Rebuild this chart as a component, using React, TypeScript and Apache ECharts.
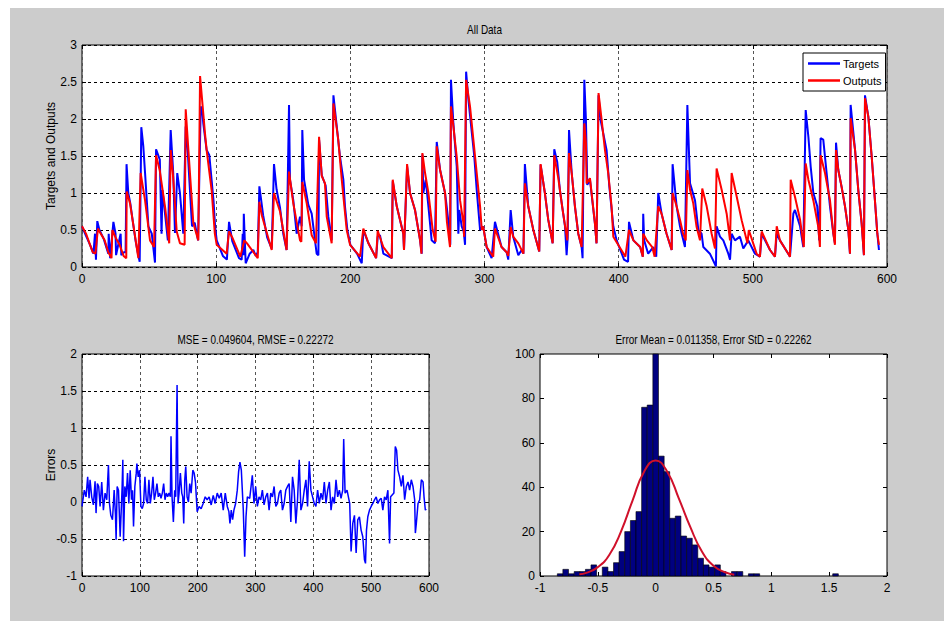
import React, { useEffect, useRef } from "react";
import * as echarts from "echarts";

// ---------- data ----------
const targetPoints: [number, number][] = [
  [0, 0.55], [3, 0.42], [6, 0.3], [8.5, 0.18], [9.7, 0.45], [10.4, 0.1], [11.4, 0.62], [13, 0.5], [16.2, 0.38],
  [19.6, 0.18], [19.9, 0.45], [21, 0.12], [23.4, 0.61], [25, 0.45], [25.4, 0.16], [27, 0.3], [28.8, 0.45], [29.3, 0.16],
  [31.3, 0.2], [32.5, 0.2], [33.2, 1.39], [34.5, 1.0], [36, 0.86], [38, 0.6], [40, 0.35], [41.5, 0.2], [43, 0.07],
  [44.2, 1.89], [45.7, 1.63], [47, 1.27], [49.5, 0.55], [52, 0.45], [54.4, 0.06],
  [55.2, 1.59], [58, 1.45], [59.3, 0.45], [60, 1.04], [62, 0.7], [64, 0.36],
  [66.1, 1.85], [68, 1.27], [69.3, 0.46], [71, 1.27], [73, 1.0], [75.5, 0.45],
  [77.3, 1.9], [79, 1.5], [82, 0.55], [84, 0.6], [86.5, 0.36],
  [88.5, 2.17], [89.7, 2.1], [90.4, 1.94], [92.9, 1.58], [94.9, 1.51], [98, 0.9], [99.2, 0.55], [100.4, 0.36],
  [105, 0.15], [108, 0.1], [109.6, 0.61], [112, 0.35], [117, 0.12], [119, 0.1], [119.8, 0.45], [120.3, 0.16], [120.6, 0.72],
  [122, 0.05], [125, 0.18], [127.7, 0.23], [129.5, 0.15], [131, 0.2],
  [132.2, 1.09], [135, 0.7], [138, 0.4], [141.4, 0.25],
  [143.1, 1.39], [145, 1.05], [147.6, 0.8], [150, 0.45], [152.5, 0.23],
  [154.3, 2.19], [155, 1.18], [157.5, 0.9], [160, 0.45], [162.5, 0.68], [163.7, 0.55],
  [164.2, 1.85], [165.5, 1.18], [168.7, 0.84], [171.2, 0.72], [174.9, 0.18], [176.2, 0.16],
  [176.7, 1.72], [178.7, 1.24], [181.6, 1.1], [183.6, 0.68], [186.1, 0.36],
  [187.4, 2.32], [192.3, 1.49], [194.8, 1.18], [196, 0.82], [197.8, 0.5], [200, 0.3], [205, 0.18], [208.5, 0.05],
  [209.7, 0.5], [213.5, 0.32], [217, 0.2], [219.2, 0.12],
  [220.4, 0.41], [222.1, 0.43], [224.6, 0.18], [230.9, 0.12],
  [231.6, 1.16], [234.6, 0.82], [239.5, 0.45], [240, 0.23],
  [242.3, 1.36], [244.5, 1.0], [248.2, 0.77], [252, 0.36], [253.2, 0.18],
  [253.7, 1.52], [254.4, 1.0], [256.2, 1.18], [258.2, 0.82], [260.6, 0.36], [263.1, 0.32],
  [264.4, 1.69], [266.9, 1.31], [270.6, 1.0], [271.8, 0.82], [273.1, 0.61], [274.5, 0.3],
  [275, 2.53], [276.8, 1.94], [279.3, 1.36], [280.5, 0.45], [281.2, 0.77], [283, 0.55], [284.5, 0.48], [285.5, 0.3],
  [286.3, 2.64], [288, 2.26], [292.4, 1.49], [294.2, 1.04], [296.7, 0.5], [299, 0.55], [301.6, 0.27], [305.3, 0.12],
  [307.8, 0.61], [312.7, 0.27], [316.5, 0.2], [317.7, 0.1],
  [319.5, 0.77], [321.4, 0.41], [325.2, 0.16], [327.7, 0.23], [329, 0.18],
  [330.1, 1.39], [332.6, 0.82], [336.4, 0.5], [340.8, 0.21],
  [341.8, 1.38], [345, 1.0], [347.5, 0.64], [350.8, 0.32],
  [352, 1.59], [354.2, 1.42], [356.2, 1.04], [360, 0.55], [361.2, 0.16], [362, 0.4],
  [363, 1.85], [365, 1.27], [367.4, 0.82], [369.9, 0.45], [372.4, 0.27], [373.1, 0.12],
  [374.4, 2.53], [375.6, 1.99], [376.6, 1.11], [378.6, 1.18], [382.3, 0.59], [383.5, 0.32],
  [385, 2.32], [386.5, 1.99], [391, 1.58], [393, 1.1], [396, 0.55], [398.5, 0.36], [404, 0.1], [407, 0.07],
  [407.7, 0.61], [411, 0.36], [416, 0.27], [418, 0.14],
  [418.3, 0.72], [419, 0.36], [422, 0.18], [425.8, 0.27], [428, 0.14],
  [429.5, 1.0], [432, 0.72], [435.7, 0.45], [439.5, 0.23],
  [440.2, 1.39], [443.2, 0.82], [445.7, 0.55], [447, 0.45], [449.4, 0.27],
  [451.2, 2.19], [453.2, 1.13], [456.9, 0.9], [459.4, 0.5], [461.8, 0.45], [463.1, 0.27], [468, 0.18], [472.5, 0.01],
  [473, 0.55], [475.5, 0.41], [478, 0.36], [481.7, 0.18], [483, 0.1], [484.2, 0.45], [486.7, 0.36], [490.4, 0.41],
  [492.9, 0.25], [496.6, 0.36], [501.6, 0.18], [505.3, 0.14], [506.6, 0.45], [512.8, 0.23], [516.5, 0.14],
  [517.8, 0.45], [520.2, 0.36], [526.4, 0.18], [527.7, 0.14], [530.2, 0.72], [531.4, 0.77], [535.2, 0.55], [537.6, 0.27],
  [539.4, 2.12], [541.4, 1.76], [543.1, 1.36], [545.1, 1.0], [548, 0.82], [549.5, 0.36],
  [550.5, 1.74], [552.5, 1.72], [555, 1.27], [557.5, 0.82], [560, 0.45], [561.2, 0.32],
  [562, 1.68], [563.7, 1.31], [566.2, 1.08], [568.7, 0.82], [571.2, 0.5], [572.4, 0.18],
  [572.9, 2.19], [576.2, 1.58], [578.6, 1.04], [581.1, 0.59], [582.8, 0.16],
  [583.6, 2.32], [586.1, 2.03], [588.6, 1.49], [591, 0.9], [592.8, 0.45], [594, 0.23],
];

const outputPoints: [number, number][] = [
  [0, 0.55], [3, 0.45], [6, 0.3], [8, 0.2], [10, 0.18], [11.9, 0.52], [13, 0.48], [16.9, 0.36], [19.6, 0.2], [22, 0.12],
  [22.6, 0.5], [25, 0.4], [28, 0.3], [31, 0.15], [33, 0.12],
  [33.3, 1.02], [35.8, 0.86], [38, 0.6], [42, 0.12],
  [43.7, 1.27], [47, 0.9], [50.7, 0.36], [53.7, 0.27],
  [55.2, 1.51], [58, 1.3], [62, 0.8], [65, 0.32],
  [66.1, 1.58], [68, 1.2], [70.6, 0.48], [73, 0.32], [76.5, 0.3],
  [77.3, 2.13], [79.3, 1.58], [83, 0.59], [86.7, 0.36],
  [88, 2.58], [91.7, 1.8], [92.9, 1.58], [96.6, 1.04], [99, 0.45], [100.4, 0.3], [107.8, 0.18],
  [109.6, 0.48], [112, 0.4], [118, 0.14], [121, 0.36], [123, 0.32], [131, 0.12],
  [132.2, 0.88], [134, 0.7], [141.4, 0.23],
  [143.1, 1.0], [147.6, 0.75], [152.5, 0.23],
  [154.3, 1.29], [157.5, 0.86], [162.5, 0.36], [163.5, 0.34],
  [164.2, 1.15], [167.5, 0.86], [171.2, 0.43], [174.4, 0.32],
  [176.7, 1.76], [178.7, 1.23], [181.1, 1.13], [182.4, 0.68], [186.1, 0.32],
  [187.4, 2.21], [191, 1.72], [193.6, 1.18], [197.3, 0.5], [199.8, 0.3], [207.2, 0.14],
  [209.7, 0.52], [213.5, 0.32], [219.2, 0.12],
  [220.4, 0.49], [224.6, 0.27], [230.9, 0.12],
  [231.6, 1.18], [234.6, 0.82], [239.5, 0.45], [240, 0.23],
  [242.3, 1.39], [244.5, 1.0], [248.2, 0.77], [252, 0.36], [253, 0.18],
  [253.7, 1.54], [255.7, 1.27], [258.2, 1.0], [261.4, 0.5], [263.6, 0.34],
  [264.4, 1.63], [266.9, 1.31], [270.6, 1.0], [272, 0.61], [274.3, 0.27],
  [275, 2.17], [276.8, 1.9], [279.3, 1.49], [281.8, 0.9], [284.3, 0.59], [284.8, 0.41],
  [286.3, 2.53], [289.2, 2.17], [291.7, 1.72], [294.2, 1.27], [296.7, 0.82], [298, 0.5], [299, 0.55], [301.6, 0.27], [306.5, 0.14],
  [307.8, 0.52], [312.7, 0.27], [316.5, 0.2], [317.7, 0.15],
  [319.5, 0.54], [321.4, 0.41], [325.2, 0.32], [329, 0.18],
  [330.1, 1.13], [332.6, 0.82], [336.4, 0.5], [340.8, 0.21],
  [341.8, 1.39], [345, 1.0], [347.5, 0.64], [350.8, 0.32],
  [352, 1.51], [355, 1.2], [358, 0.8], [361.7, 0.36],
  [363, 1.54], [365, 1.27], [367.4, 0.82], [369.9, 0.45], [372.4, 0.27],
  [374.4, 1.94], [375.6, 1.67], [376.1, 1.13], [378.6, 1.2], [382.3, 0.59], [383.5, 0.32],
  [385, 2.35], [387.3, 1.99], [389.8, 1.58], [392.2, 1.27], [394.7, 0.82], [396, 0.41], [402, 0.23], [405, 0.14],
  [407.7, 0.5], [411, 0.36], [416, 0.27], [418, 0.14],
  [418.3, 0.45], [421, 0.36], [425, 0.27], [426.8, 0.14],
  [429.5, 0.82], [432, 0.72], [435.7, 0.45], [439.5, 0.23],
  [440.2, 1.0], [443.2, 0.82], [445.7, 0.64], [448, 0.45], [450, 0.36],
  [451.2, 1.31], [453.2, 1.04], [455.6, 0.86], [458.1, 0.54], [460.6, 0.36],
  [462.3, 1.06], [465.6, 0.82], [469.3, 0.45], [471.8, 0.25],
  [473, 1.33], [476.8, 1.04], [480.5, 0.72], [483, 0.36],
  [484.2, 1.27], [488, 0.95], [491.7, 0.63], [496, 0.32], [497, 0.5], [502.8, 0.18], [505.3, 0.14],
  [506.6, 0.48], [512.8, 0.23], [516.5, 0.14],
  [517.8, 0.55], [520.2, 0.36], [526.4, 0.18], [527.7, 0.14],
  [528.2, 1.18], [531.4, 0.95], [535.2, 0.64], [538, 0.27],
  [539.4, 1.4], [541.4, 1.18], [545.1, 0.9], [548.8, 0.54], [550, 0.27],
  [550.5, 1.51], [553.8, 1.27], [557.5, 0.9], [560, 0.45], [561.2, 0.3],
  [562, 1.58], [563.7, 1.31], [566.2, 1.08], [568.7, 0.82], [571.2, 0.5], [572.4, 0.18],
  [572.9, 2.01], [576.2, 1.58], [578.6, 1.04], [581.1, 0.59], [582.8, 0.16],
  [583.6, 2.28], [586.1, 2.03], [588.6, 1.49], [591, 0.9], [592.8, 0.45], [594, 0.3],
];

const errorPoints: [number, number][] = [
  [0, -0.06], [4, 0.16], [7, 0.07], [9.8, 0.34], [12.2, 0.05], [13.9, 0.3], [16.8, 0.07], [19.7, -0.04], [22.6, 0.28],
  [24.3, -0.15], [26.6, 0.25], [28.9, 0.21], [31.3, -0.06], [34.1, 0.27], [37, -0.11], [39.9, 0.12], [42.8, 0.03],
  [45.7, 0.5], [47.5, -0.02], [49.8, -0.18], [52.7, -0.24], [55.6, 0.16], [57.9, -0.18], [59, -0.51], [60.8, 0.21],
  [63.1, 0.16], [66, -0.47], [68.3, -0.02], [69.4, 0.21], [70.6, 0.57], [71.8, -0.53], [74.1, 0.21], [76.4, 0.07],
  [78.7, 0.39], [81, -0.02], [83.3, 0.43], [85.6, 0.03], [87.4, 0.16], [89.1, -0.33], [91.4, 0.21], [93.8, 0.39],
  [94.9, 0.52], [97.2, 0.34], [99.5, 0.43], [101.9, -0.06], [104.2, -0.09], [106.5, -0.02], [108.8, 0.34], [111.1, 0.03],
  [113.4, -0.02], [115.7, 0.3], [118.1, -0.02], [120.4, 0.12], [122.7, 0.34], [125, 0.03], [127.3, 0.12], [129.6, 0.25],
  [131.9, 0.07], [134.3, 0.12], [136.6, 0.05], [138.9, 0.12], [141.2, 0.25], [143.5, 0.03], [145.8, 0.12], [148.1, 0.07],
  [150.5, 0.12], [152.8, 0.07], [153.9, 0.89], [155.7, 0.07], [158, -0.27], [160.3, 0.16], [162, 0.07], [164.4, 1.58],
  [166.1, -0.02], [167.8, 0.12], [170.1, 0.39], [172.5, 0.12], [174.2, 0.07], [175.9, -0.29], [177.7, 0.3], [179.4, 0.48],
  [181.7, 0.07], [184, 0], [186.3, 0.25], [188.7, 0.12], [191.6, 0.43], [193.9, 0.39], [196.2, 0.27], [199.1, -0.13],
  [202.5, -0.06], [206, -0.09], [209.5, -0.02], [213, 0.07], [216.4, 0.03], [219.9, 0.07], [223.4, -0.04], [226.9, 0.09],
  [230.3, -0.02], [233.8, 0.12], [237.3, 0.05], [240.7, 0.12], [244.2, -0.11], [247.7, 0.12], [251.2, -0.06], [254, -0.13],
  [255.8, -0.29], [258.1, -0.11], [260.4, -0.24], [262.7, -0.11], [265.6, -0.02], [268.5, 0.16], [270.8, 0.41],
  [273.1, 0.54], [275.5, 0.43], [277.2, 0.16], [278.9, -0.11], [281.3, -0.74], [283.6, -0.2], [285.9, 0.07],
  [290, 0.05], [294.5, 0.36], [297.4, -0.02], [300.3, 0.21], [303.2, -0.06], [306.1, 0.07], [309, 0.03], [311.9, 0.16],
  [314.8, -0.04], [317.7, 0.07], [320.6, 0.12], [323.5, -0.11], [326.4, 0.12], [329.3, 0.07], [332.2, 0.21], [335.1, -0.06],
  [338, -0.02], [340.9, 0.12], [343.7, 0.16], [346.6, -0.11], [349.5, -0.02], [352.4, 0.16], [355.3, 0.21], [358.2, 0.25],
  [361.1, -0.27], [364, 0.34], [366.9, 0.16], [369.8, -0.29], [372.7, 0.03], [375.6, 0.57], [378.5, -0.11], [381.4, -0.02],
  [384.3, 0.16], [387.2, 0.3], [390, -0.06], [392.9, 0.55], [395.8, 0.16], [398.7, 0.07], [401.6, -0.02], [404.5, -0.06],
  [407.4, 0.16], [410.3, -0.02], [413.2, 0.12], [416.1, 0.03], [419, 0.27], [421.9, -0.02], [424.8, 0.16], [427.7, 0.27],
  [430.6, -0.11], [433.4, 0.07], [436.3, -0.02], [439.2, 0.3], [442.1, 0.07], [445, 0.16], [447.9, 0.05], [450.8, 0.16],
  [452.5, 0.85], [454.9, 0.12], [458.3, 0.16], [460.6, 0.07], [462.9, -0.02], [465.3, -0.67], [468.2, -0.29], [471.1, -0.18],
  [474, -0.69], [476.8, -0.24], [479.7, -0.2], [482.6, -0.38], [485.5, -0.47], [488.4, -0.78], [490.2, -0.83], [491.9, -0.38],
  [494.2, -0.2], [497.1, -0.11], [500, -0.06], [502.9, -0.02], [505.8, 0.03], [508.7, 0.07], [511.6, -0.02], [514.5, 0.03],
  [517.4, 0.05], [520.2, -0.11], [523.1, 0.07], [526, 0.03], [528.9, 0.16], [531.8, -0.56], [533.6, 0.07], [535.9, 0.09],
  [539.3, 0.12], [541.7, 0.75], [544, 0.7], [546.3, 0.43], [549.2, 0.34], [552.1, 0.21], [555, 0.36], [557.9, 0.03],
  [560.8, 0.21], [563.7, 0.27], [566.5, 0.16], [569.4, 0.3], [572.3, 0.21], [575.2, 0.03], [576.4, -0.42], [578.1, -0.29],
  [581, -0.02], [583.9, 0.03], [586.8, 0.3], [589.7, 0.27], [591.4, 0.07], [593.7, -0.11], [595, -0.09],
];

const histBinWidth = 0.0486;
const histCenters = [
  -0.826, -0.778, -0.729, -0.680, -0.632, -0.583, -0.535, -0.486, -0.437, -0.389, -0.340, -0.292, -0.243, -0.194,
  -0.146, -0.097, -0.049, 0.0, 0.049, 0.097, 0.146, 0.194, 0.243, 0.292, 0.340, 0.389, 0.437, 0.486, 0.535, 0.583,
  0.632, 0.680, 0.729, 0.778, 0.826, 0.875, 1.555,
];
const histCounts = [
  1, 3, 1, 2, 2, 3, 5, 0, 4, 2, 6, 11, 20, 25,
  29, 76, 77, 100, 54, 47, 26, 27, 18, 17, 14, 8, 5, 4, 5, 2,
  0, 2, 2, 0, 1, 1, 1,
];

const fitX = [-0.66, -0.6, -0.5, -0.4, -0.3, -0.2, -0.1, 0, 0.1, 0.2, 0.3, 0.4, 0.5, 0.6, 0.68];
const fitY = [0.8, 1.4, 4.0, 9.6, 20, 34, 47, 52, 47, 35, 22, 11, 4.6, 1.7, 0.6];

const titleTop = "All Data";
const titleErrors = "MSE = 0.049604, RMSE = 0.22272";
const titleHist = "Error Mean = 0.011358, Error StD = 0.22262";

// ---------- styling ----------
const FONT = "'Liberation Sans Narrow', 'Arial Narrow', 'Liberation Sans', Arial, sans-serif";
const FS = 12;
const NARROW = 0.83;

function mainX(gridIndex: number, min: number, max: number, interval: number, split: boolean) {
  return {
    type: "value", gridIndex, min, max, interval, position: "bottom",
    axisLine: { show: false, onZero: false },
    axisTick: { show: true, inside: true, length: 4, lineStyle: { color: "#000" } },
    axisLabel: { show: true, color: "#000", fontSize: FS, fontFamily: FONT, margin: 6 },
    splitLine: { show: split, lineStyle: { color: "#555", type: [3, 3], width: 1 } },
  };
}
function mirrorX(gridIndex: number, min: number, max: number, interval: number) {
  return {
    type: "value", gridIndex, min, max, interval, position: "top",
    axisLine: { show: false, onZero: false },
    axisTick: { show: true, inside: true, length: 4, lineStyle: { color: "#000" } },
    axisLabel: { show: false }, splitLine: { show: false },
  };
}
function mainY(gridIndex: number, min: number, max: number, interval: number, split: boolean, name: string) {
  return {
    type: "value", gridIndex, min, max, interval, position: "left",
    name, nameLocation: "middle", nameGap: 25, nameRotate: 90, nameMoveOverlap: false,
    nameTextStyle: { color: "#000", fontSize: FS, fontFamily: FONT },
    axisLine: { show: false, onZero: false },
    axisTick: { show: true, inside: true, length: 4, lineStyle: { color: "#000" } },
    axisLabel: { show: true, color: "#000", fontSize: FS, fontFamily: FONT, margin: 5 },
    splitLine: { show: split, lineStyle: { color: "#000", type: [3, 3], width: 1 } },
  };
}
function mirrorY(gridIndex: number, min: number, max: number, interval: number) {
  return {
    type: "value", gridIndex, min, max, interval, position: "right",
    axisLine: { show: false, onZero: false },
    axisTick: { show: true, inside: true, length: 4, lineStyle: { color: "#000" } },
    axisLabel: { show: false }, splitLine: { show: false },
  };
}

const gridStyle = { show: true, backgroundColor: "#fff", borderColor: "#000", borderWidth: 1 };

function titleText(text: string, x: number, y: number) {
  return {
    type: "text", x, y, scaleX: NARROW, scaleY: 1,
    style: { text, x: 0, y: 0, fill: "#000", font: `${FS}px ${FONT}`, textAlign: "center", textVerticalAlign: "middle" },
  };
}

export default function App() {
  const ref = useRef<HTMLDivElement>(null);
  useEffect(() => {
    if (!ref.current) return;
    const chart = echarts.init(ref.current, null, { renderer: "svg" });
    const option: any = {
      animation: false,
      backgroundColor: "transparent",
      grid: [
        { left: 82, top: 45, width: 805, height: 222, ...gridStyle },
        { left: 82, top: 354, width: 347, height: 222, ...gridStyle },
        { left: 540, top: 354, width: 347, height: 222, ...gridStyle },
      ],
      xAxis: [
        mainX(0, 0, 600, 100, true), mirrorX(0, 0, 600, 100),
        mainX(1, 0, 600, 100, true), mirrorX(1, 0, 600, 100),
        mainX(2, -1, 2, 0.5, false), mirrorX(2, -1, 2, 0.5),
      ],
      yAxis: [
        mainY(0, 0, 3, 0.5, true, "Targets and Outputs"), mirrorY(0, 0, 3, 0.5),
        mainY(1, -1, 2, 0.5, true, "Errors"), mirrorY(1, -1, 2, 0.5),
        mainY(2, 0, 100, 20, false, ""), mirrorY(2, 0, 100, 20),
      ],
      legend: {
        data: ["Targets", "Outputs"],
        orient: "vertical", left: 803, top: 53,
        backgroundColor: "#fff", borderColor: "#000", borderWidth: 1, borderRadius: 0,
        padding: [5, 4, 5, 5], itemGap: 6, itemWidth: 32, itemHeight: 2.5, icon: "rect",
        textStyle: { color: "#000", fontSize: 11, fontFamily: FONT, padding: [0, 0, 0, -2] },
      },
      graphic: [
        titleText(titleTop, 484.5, 30),
        titleText(titleErrors, 255.5, 340),
        titleText(titleHist, 713.5, 340),
      ],
      series: [
        {
          name: "Targets", type: "line", xAxisIndex: 0, yAxisIndex: 0, data: targetPoints,
          showSymbol: false, symbol: "none", itemStyle: { color: "#0000ff" },
          lineStyle: { color: "#0000ff", width: 2 },
        },
        {
          name: "Outputs", type: "line", xAxisIndex: 0, yAxisIndex: 0, data: outputPoints,
          showSymbol: false, symbol: "none", itemStyle: { color: "#ff0000" },
          lineStyle: { color: "#ff0000", width: 2 },
        },
        {
          name: "Errors", type: "line", xAxisIndex: 2, yAxisIndex: 2, data: errorPoints,
          showSymbol: false, symbol: "none", lineStyle: { color: "#0000ff", width: 1.5 },
        },
        {
          name: "Histogram", type: "custom", xAxisIndex: 4, yAxisIndex: 4,
          data: histCenters.map((c, i) => [c, histCounts[i]]),
          encode: { x: 0, y: 1 },
          renderItem: (_params: any, api: any) => {
            const c = api.value(0);
            const n = api.value(1);
            if (!n) return null;
            const p0 = api.coord([c - histBinWidth / 2, n]);
            const p1 = api.coord([c + histBinWidth / 2, 0]);
            return {
              type: "rect",
              shape: { x: p0[0], y: p0[1], width: p1[0] - p0[0], height: p1[1] - p0[1] },
              style: { fill: "#000080", stroke: "#000", lineWidth: 0.6 },
            };
          },
        },
        {
          name: "Fit", type: "line", xAxisIndex: 4, yAxisIndex: 4,
          data: fitX.map((x, i) => [x, fitY[i]]), smooth: true,
          showSymbol: false, symbol: "none", lineStyle: { color: "#d0102a", width: 2 }, z: 5,
        },
      ],
    };
    chart.setOption(option);
    return () => chart.dispose();
  }, []);
  return (
    <div style={{ position: "fixed", left: 0, top: 0, width: 944, height: 621, background: "#fff" }}>
      <div style={{ position: "absolute", left: 10, top: 8, right: 0, bottom: 0, background: "#cccccc" }} />
      <div ref={ref} style={{ position: "absolute", left: 0, top: 0, width: 944, height: 621 }} />
    </div>
  );
}
